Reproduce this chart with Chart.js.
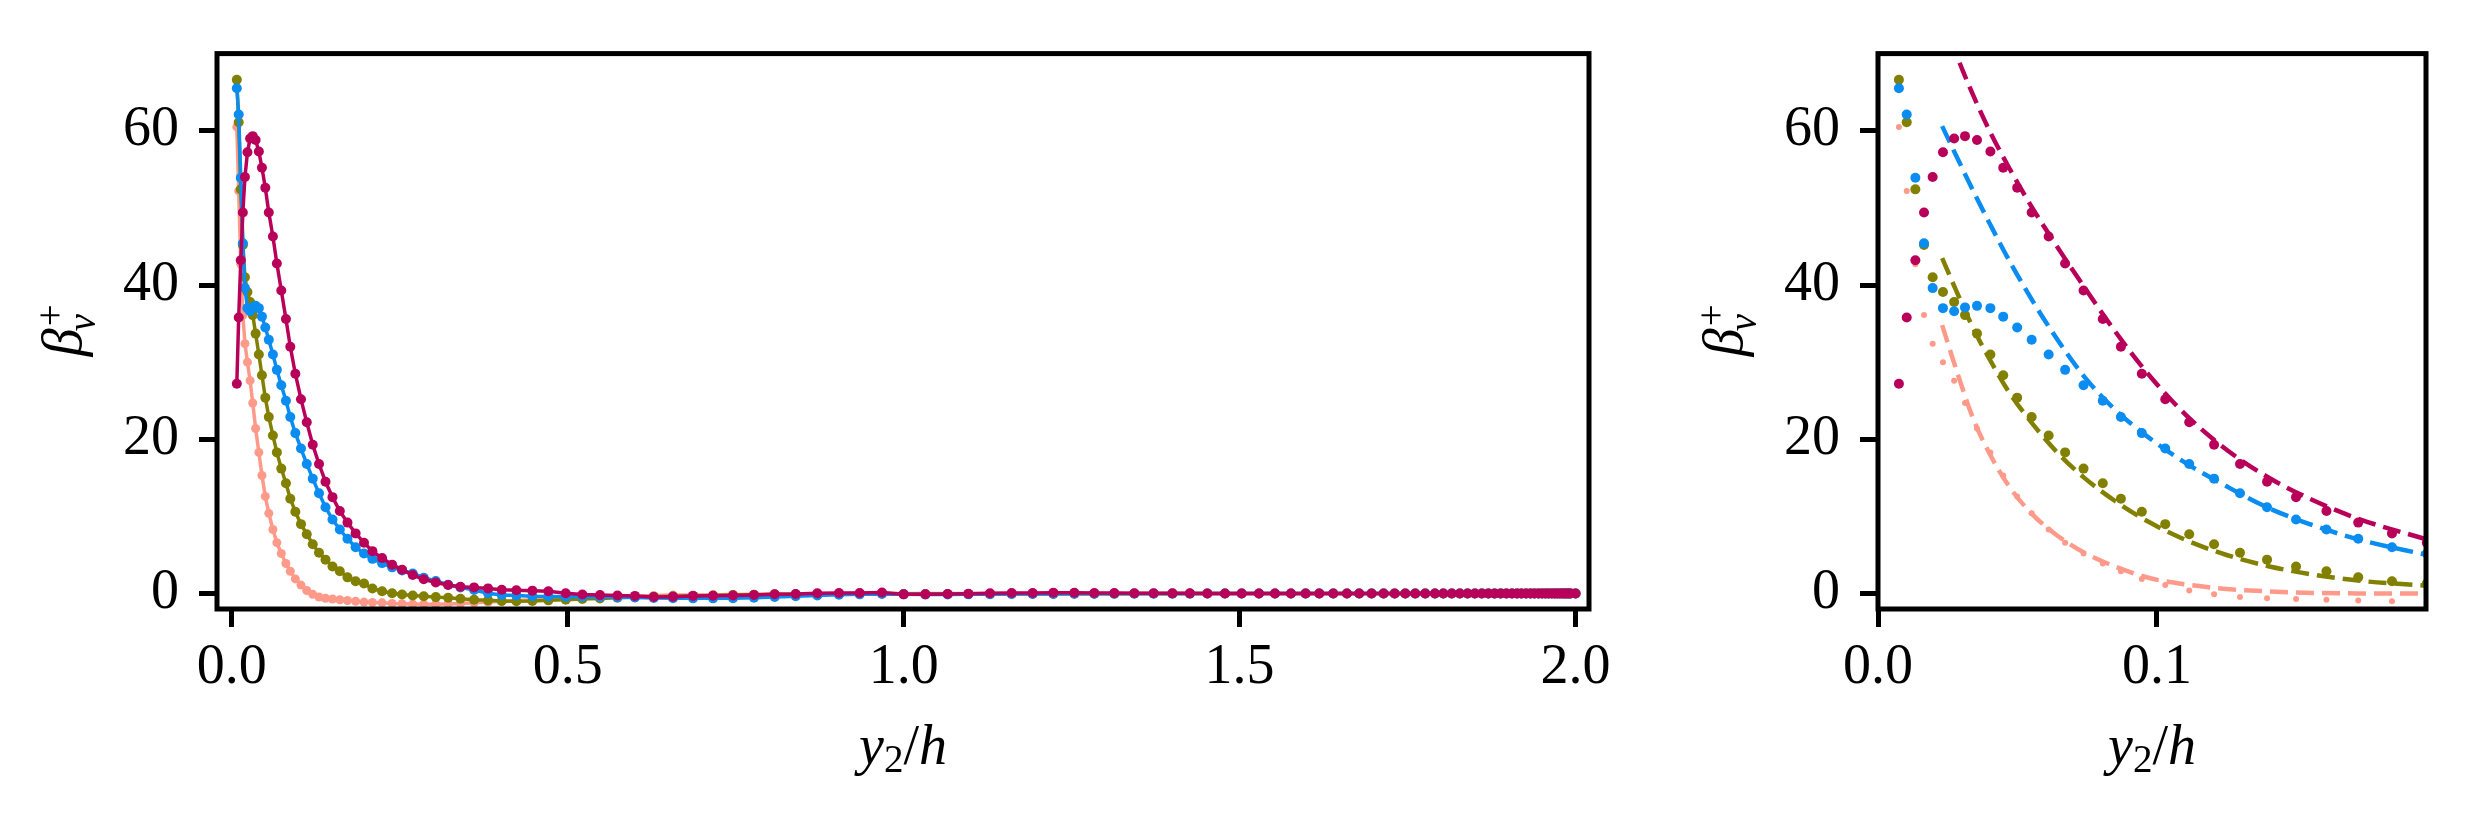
<!DOCTYPE html>
<html>
<head>
<meta charset="utf-8">
<script src="https://cdn.jsdelivr.net/npm/chart.js@4.4.1/dist/chart.umd.min.js"></script>
<style>
  html, body { margin: 0; padding: 0; background: #fff; }
  #wrap { position: relative; width: 2466px; height: 816px; overflow: hidden; }
  canvas { position: absolute; top: 0; }
</style>
</head>
<body>
<div id="wrap">
  <canvas id="left" width="1700" height="816" style="left:0px"></canvas>
  <canvas id="right" width="816" height="816" style="left:1650px"></canvas>
</div>
<script>
"use strict";
const FONT = "'Liberation Serif', 'Times New Roman', serif";
const FS = 56;

// wall-normal grid, y2/h
const gridX = [
  0.0075, 0.0103, 0.0134, 0.0165, 0.0196, 0.0233, 0.0273, 0.0312, 0.0355, 0.0403,
  0.0449, 0.0499, 0.0551, 0.0612, 0.0671, 0.0737, 0.0806, 0.0871, 0.0946, 0.1030,
  0.1116, 0.1205, 0.1298, 0.1395, 0.1499, 0.1608, 0.1722, 0.1843, 0.1968, 0.2093,
  0.2237, 0.2386, 0.2534, 0.2693, 0.2857, 0.3036, 0.3220, 0.3403, 0.3606, 0.3814,
  0.4018, 0.4236, 0.4474, 0.4712, 0.4970, 0.5218, 0.5480, 0.5740, 0.6000, 0.6280,
  0.6567, 0.6865, 0.7163, 0.7460, 0.7772, 0.8080, 0.8393, 0.8715, 0.9037, 0.9345,
  0.9677, 1.0000, 1.0323, 1.0655, 1.0963, 1.1285, 1.1607, 1.1920, 1.2228, 1.2540,
  1.2837, 1.3135, 1.3433, 1.3720, 1.4000, 1.4260, 1.4520, 1.4782, 1.5030, 1.5288,
  1.5526, 1.5764, 1.5982, 1.6186, 1.6394, 1.6597, 1.6780, 1.6964, 1.7143, 1.7307,
  1.7466, 1.7614, 1.7763, 1.7907, 1.8032, 1.8157, 1.8278, 1.8392, 1.8501, 1.8605,
  1.8702, 1.8795, 1.8884, 1.8970, 1.9054, 1.9129, 1.9194, 1.9263, 1.9329, 1.9388,
  1.9449, 1.9501, 1.9551, 1.9597, 1.9645, 1.9688, 1.9727, 1.9767, 1.9804, 1.9835,
  1.9866, 1.9897, 1.9925, 2.0000
];

const crimsonY = [
  27.2, 35.8, 43.2, 49.4, 54.0, 57.2, 59.0, 59.3, 58.8, 57.3,
  55.2, 52.6, 49.4, 46.3, 42.8, 39.3, 35.6, 32.0, 28.5, 25.2,
  22.2, 19.3, 16.8, 14.5, 12.5, 10.7, 9.2, 7.8, 6.6, 5.5,
  4.6, 3.75, 3.1, 2.4, 1.85, 1.43, 1.1, 0.88, 0.8, 0.67,
  0.5, 0.42, 0.38, 0.3, 0.04, -0.13, -0.2, -0.25, -0.3, -0.45,
  -0.4, -0.3, -0.28, -0.25, -0.18, -0.08, -0.05, 0.05, 0.08, 0.08,
  0.15, -0.1, -0.1, -0.05, -0.03, 0.05, 0.08, 0.08, 0.12, 0.1,
  0.08, 0.06, 0.05, 0.04, 0.03, 0.03, 0.02, 0.02, 0.01, 0.01,
  0.01, 0, 0, 0, 0, 0, 0, 0, 0, 0,
  0, 0, 0, 0, 0, 0, 0, 0, 0, 0,
  0, 0, 0, 0, 0, 0, 0, 0, 0, 0,
  0, 0, 0, 0, 0, 0, 0, 0, 0, 0,
  0, 0, 0, 0
];

const blueY = [
  65.5, 62.1, 53.9, 45.4, 39.6, 37.0, 36.6, 37.1, 37.3, 37.0,
  35.9, 34.5, 32.9, 31.0, 29.0, 27.0, 25.0, 22.9, 20.8, 18.8,
  16.8, 14.9, 13.0, 11.2, 9.6, 8.3, 7.1, 6.0, 5.2, 4.5,
  3.95, 3.4, 3.0, 2.6, 2.06, 1.64, 1.14, 0.8, 0.46, 0.04,
  -0.17, -0.25, -0.34, -0.38, -0.4, -0.42, -0.45, -0.48, -0.52, -0.56,
  -0.6, -0.62, -0.62, -0.6, -0.55, -0.45, -0.35, -0.25, -0.15, -0.1,
  -0.05, -0.1, -0.12, -0.12, -0.1, -0.08, -0.06, -0.05, -0.04, -0.03,
  -0.03, -0.02, -0.02, -0.01, -0.01, -0.01, 0, 0, 0, 0,
  0, 0, 0, 0, 0, 0, 0, 0, 0, 0,
  0, 0, 0, 0, 0, 0, 0, 0, 0, 0,
  0, 0, 0, 0, 0, 0, 0, 0, 0, 0,
  0, 0, 0, 0, 0, 0, 0, 0, 0, 0,
  0, 0, 0, 0
];

const oliveY = [
  66.6, 61.1, 52.4, 45.2, 41.0, 39.1, 37.8, 36.1, 33.7, 31.0,
  28.3, 25.4, 22.9, 20.5, 18.3, 16.2, 14.3, 12.3, 10.6, 9.0,
  7.7, 6.4, 5.3, 4.4, 3.5, 2.9, 2.1, 1.6, 1.3, 0.65,
  0.3, 0.04, -0.13, -0.25, -0.34, -0.46, -0.55, -0.67, -0.8, -0.88,
  -0.97, -1.0, -0.97, -0.88, -0.8, -0.7, -0.63, -0.55, -0.46, -0.4,
  -0.35, -0.3, -0.25, -0.2, -0.15, -0.1, -0.08, -0.05, -0.03, 0,
  0, -0.05, -0.05, -0.05, -0.04, -0.04, -0.03, -0.03, -0.02, -0.02,
  -0.01, -0.01, 0, 0, 0, 0, 0, 0, 0, 0,
  0, 0, 0, 0, 0, 0, 0, 0, 0, 0,
  0, 0, 0, 0, 0, 0, 0, 0, 0, 0,
  0, 0, 0, 0, 0, 0, 0, 0, 0, 0,
  0, 0, 0, 0, 0, 0, 0, 0, 0, 0,
  0, 0, 0, 0
];

const salmonY = [
  60.5, 52.2, 42.7, 36.1, 32.4, 30.0, 27.6, 24.7, 21.4, 18.3,
  15.3, 12.6, 10.4, 8.3, 6.6, 5.2, 3.9, 2.9, 1.9, 1.1,
  0.4, -0.1, -0.45, -0.6, -0.7, -0.8, -0.9, -1.0, -1.1, -1.15,
  -1.2, -1.28, -1.32, -1.36, -1.38, -1.38, -1.35, -1.3, -1.2, -1.1,
  -1.0, -0.9, -0.8, -0.7, -0.6, -0.5, -0.42, -0.35, -0.3, -0.25,
  -0.2, -0.18, -0.15, -0.12, -0.1, -0.08, -0.06, -0.04, -0.02, 0,
  0, 0, 0, 0, 0, 0, 0, 0, 0, 0,
  0, 0, 0, 0, 0, 0, 0, 0, 0, 0,
  0, 0, 0, 0, 0, 0, 0, 0, 0, 0,
  0, 0, 0, 0, 0, 0, 0, 0, 0, 0,
  0, 0, 0, 0, 0, 0, 0, 0, 0, 0,
  0, 0, 0, 0, 0, 0, 0, 0, 0, 0,
  0, 0, 0, 0
];

// model curves (dashed, right panel)
const modelX = [0.023, 0.028, 0.034, 0.040, 0.047, 0.055, 0.064, 0.074, 0.085, 0.097, 0.110, 0.125, 0.140, 0.156, 0.173, 0.197];
const crimsonModel = [75.2, 70.0, 64.7, 60.0, 55.2, 50.2, 45.1, 39.7, 34.0, 28.4, 23.3, 18.65, 15.05, 12.1, 9.6, 7.0];
const blueModel = [60.6, 56.8, 52.3, 48.0, 43.2, 38.2, 33.1, 28.1, 23.85, 20.25, 17.0, 13.9, 11.1, 8.85, 6.95, 5.0];
const oliveModel = [43.5, 39.3, 34.5, 30.4, 26.1, 22.2, 18.4, 15.0, 12.0, 9.3, 7.0, 5.0, 3.55, 2.45, 1.65, 1.0];
const salmonModel = [34.8, 29.1, 22.8, 18.15, 13.9, 10.4, 7.6, 5.3, 3.5, 2.05, 1.2, 0.6, 0.28, 0.08, 0.02, 0.0];

const yTicks = [0, 20, 40, 60];
const yTickLabels = ['0', '20', '40', '60'];
const xTicksLeft = [0, 0.5, 1.0, 1.5, 2.0];
const xTickLabelsLeft = ['0.0', '0.5', '1.0', '1.5', '2.0'];
const xTicksRight = [0, 0.1];
const xTickLabelsRight = ['0.0', '0.1'];

const COLORS = { crimson: '#b8005a', blue: '#0a8cf0', olive: '#828000', salmon: '#ff9a8a' };

function pts(xs, ys) {
  return xs.map((x, i) => ({ x: x, y: ys[i] }));
}

// box around the axes, like matplotlib spines
const framePlugin = {
  id: 'frame',
  afterDatasetsDraw(chart) {
    const { ctx, chartArea: a } = chart;
    ctx.save();
    ctx.strokeStyle = '#000';
    ctx.lineWidth = 5;
    ctx.strokeRect(a.left, a.top, a.right - a.left, a.bottom - a.top);
    ctx.restore();
  }
};

// axis titles with sub/superscripts
const titlePlugin = {
  id: 'mathTitles',
  afterDraw(chart) {
    const { ctx, chartArea: a } = chart;
    const big = 'italic ' + FS + 'px ' + FONT;
    const small = Math.round(FS * 0.7) + 'px ' + FONT;
    const smallIt = 'italic ' + Math.round(FS * 0.7) + 'px ' + FONT;
    ctx.save();
    ctx.fillStyle = '#000';
    ctx.textAlign = 'left';
    ctx.textBaseline = 'alphabetic';

    // x title: y_2/h
    ctx.font = big; const wy = ctx.measureText('y').width;
    ctx.font = small; const w2 = ctx.measureText('2').width;
    ctx.font = FS + 'px ' + FONT; const ws = ctx.measureText('/').width;
    ctx.font = big; const wh = ctx.measureText('h').width;
    const tot = wy + w2 + ws + wh;
    let x0 = (a.left + a.right) / 2 - tot / 2;
    const base = 764;
    ctx.font = big; ctx.fillText('y', x0, base); x0 += wy;
    ctx.font = small; ctx.fillText('2', x0, base + 0.15 * FS); x0 += w2;
    ctx.font = FS + 'px ' + FONT; ctx.fillText('/', x0, base); x0 += ws;
    ctx.font = big; ctx.fillText('h', x0, base);

    // y title: beta_v^+
    ctx.translate(a.left - 136, (a.top + a.bottom) / 2);
    ctx.rotate(-Math.PI / 2);
    ctx.font = big; const wb = ctx.measureText('\u03B2').width;
    ctx.font = small; const wp = ctx.measureText('+').width;
    ctx.font = smallIt; const wv = ctx.measureText('v').width;
    const tot2 = wb + Math.max(wp, wv);
    const y0 = -tot2 / 2;
    ctx.font = big; ctx.fillText('\u03B2', y0, 0);
    ctx.font = small; ctx.fillText('+', y0 + wb + 2, -0.33 * FS);
    ctx.font = smallIt; ctx.fillText('v', y0 + wb - 3, 0.25 * FS);
    ctx.restore();
  }
};

function axes(xMin, xMax, xTicks, xLabels, yWidth) {
  const tickFont = { family: FONT, size: FS };
  return {
    x: {
      type: 'linear', min: xMin, max: xMax,
      afterBuildTicks: (s) => { s.ticks = xTicks.map(v => ({ value: v })); },
      afterFit: (s) => { s.height = 207; },
      ticks: {
        font: tickFont, color: '#000', padding: 8, maxRotation: 0, autoSkip: false,
        callback: (v, i) => xLabels[i]
      },
      grid: { display: true, drawOnChartArea: false, drawTicks: true, tickLength: 18, tickWidth: 5, tickColor: '#000', color: '#000' },
      border: { display: false }
    },
    y: {
      type: 'linear', min: -2, max: 70,
      afterBuildTicks: (s) => { s.ticks = yTicks.map(v => ({ value: v })); },
      afterFit: (s) => { s.width = yWidth; },
      ticks: {
        font: tickFont, color: '#000', padding: 20, autoSkip: false,
        callback: (v, i) => yTickLabels[i]
      },
      grid: { display: true, drawOnChartArea: false, drawTicks: true, tickLength: 18, tickWidth: 5, tickColor: '#000', color: '#000' },
      border: { display: false }
    }
  };
}

function dataLine(ys, color, r) {
  return {
    data: pts(gridX, ys), showLine: true, borderColor: color, borderWidth: 3.5,
    pointRadius: r, pointBackgroundColor: color, pointBorderWidth: 0, pointHoverRadius: r,
    tension: 0, clip: 0
  };
}
function dataDots(ys, color, r) {
  return {
    data: pts(gridX, ys), showLine: false,
    pointRadius: r, pointBackgroundColor: color, pointBorderWidth: 0, pointHoverRadius: r,
    clip: 0
  };
}
function modelLine(ys, color) {
  return {
    data: pts(modelX, ys), showLine: true, borderColor: color, borderWidth: 4.5,
    borderDash: [18, 8], pointRadius: 0, cubicInterpolationMode: 'monotone', clip: 0
  };
}

const common = {
  responsive: false, animation: false, devicePixelRatio: 1,
  plugins: { legend: { display: false }, tooltip: { enabled: false } },
  events: []
};

new Chart(document.getElementById('left'), {
  type: 'scatter',
  data: {
    datasets: [
      dataLine(crimsonY, COLORS.crimson, 5),
      dataLine(blueY, COLORS.blue, 5),
      dataLine(oliveY, COLORS.olive, 5),
      dataLine(salmonY, COLORS.salmon, 4.5)
    ]
  },
  options: Object.assign({}, common, {
    layout: { padding: { top: 38, right: 111, left: 0, bottom: 0 } },
    scales: axes(-0.022, 2.02, xTicksLeft, xTickLabelsLeft, 217)
  }),
  plugins: [framePlugin, titlePlugin]
});

new Chart(document.getElementById('right'), {
  type: 'scatter',
  data: {
    datasets: [
      dataDots(crimsonY, COLORS.crimson, 5),
      dataDots(blueY, COLORS.blue, 5),
      dataDots(oliveY, COLORS.olive, 5),
      dataDots(salmonY, COLORS.salmon, 3),
      modelLine(crimsonModel, COLORS.crimson),
      modelLine(blueModel, COLORS.blue),
      modelLine(oliveModel, COLORS.olive),
      modelLine(salmonModel, COLORS.salmon)
    ]
  },
  options: Object.assign({}, common, {
    layout: { padding: { top: 38, right: 40, left: 0, bottom: 0 } },
    scales: axes(0, 0.1965, xTicksRight, xTickLabelsRight, 228)
  }),
  plugins: [framePlugin, titlePlugin]
});
</script>
</body>
</html>
